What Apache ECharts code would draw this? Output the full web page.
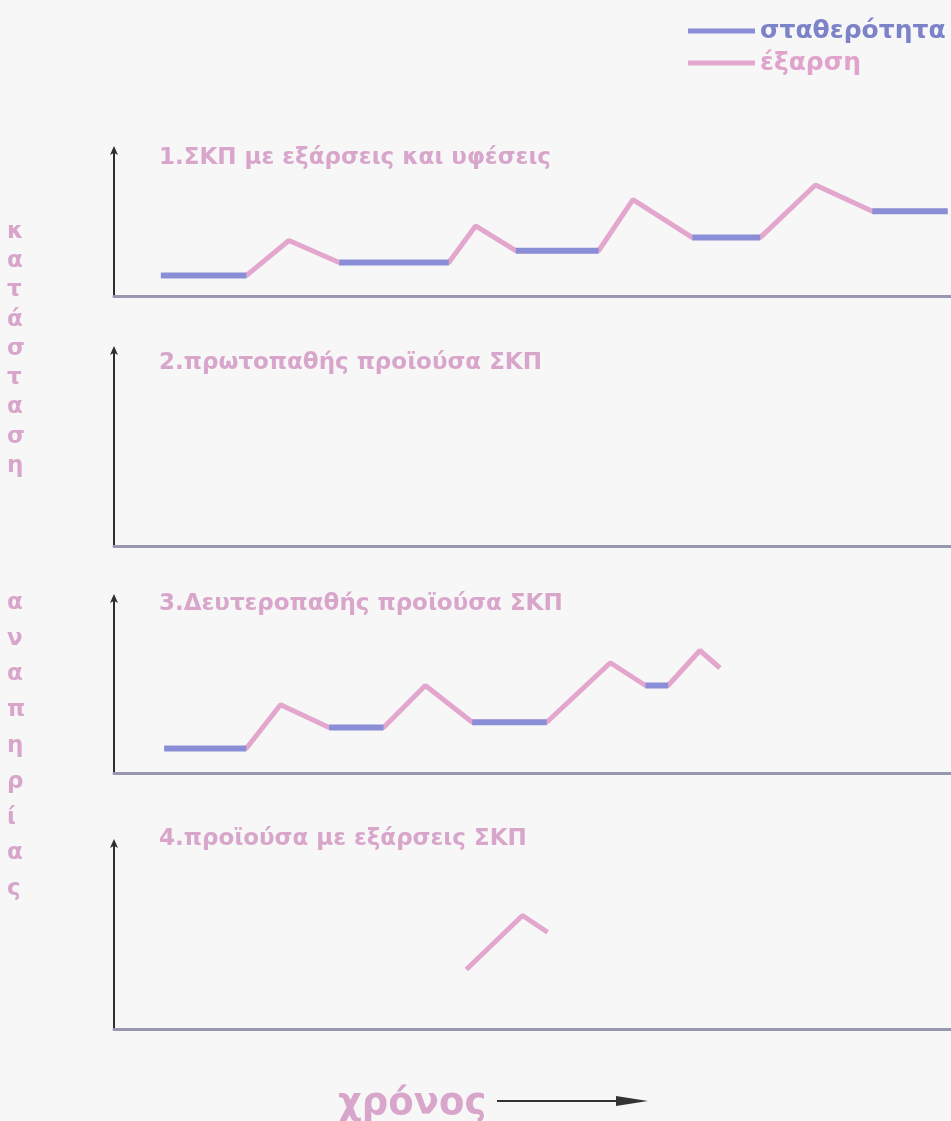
<!DOCTYPE html>
<html>
<head>
<meta charset="utf-8">
<style>
  html, body { margin: 0; padding: 0; background: #f7f7f7; }
  #chart { width: 951px; height: 1121px; }
</style>
<script src="https://cdn.jsdelivr.net/npm/echarts@6/dist/echarts.min.js"></script>
</head>
<body>
<div id="chart"></div>
<script>
// χρόνος 0–100, κατάσταση 0–10 σε κάθε διάγραμμα
const titles = [
  '1.ΣΚΠ με εξάρσεις και υφέσεις',
  '2.πρωτοπαθής προϊούσα ΣΚΠ',
  '3.Δευτεροπαθής προϊούσα ΣΚΠ',
  '4.προϊούσα με εξάρσεις ΣΚΠ'
];
const legendNames = ['σταθερότητα', 'έξαρση'];
const yLabel1 = 'κατάσταση';
const yLabel2 = 'αναπηρίας';
const xLabel = 'χρόνος';

// 1. πορεία (ολόκληρη) και διαστήματα σταθερότητας
const path1 = [[5.6,1.4],[15.8,1.4],[20.9,3.8],[26.9,2.3],[40.0,2.3],[43.2,4.8],[48.0,3.1],
  [57.9,3.1],[62.0,6.6],[69.1,4.0],[77.2,4.0],[83.8,7.6],[90.6,5.8],[99.6,5.8]];
const stable1 = [[5.6,1.4],[15.8,1.4],[20,'-'],[26.9,2.3],[40.0,2.3],[45,'-'],[48.0,3.1],[57.9,3.1],
  [62,'-'],[69.1,4.0],[77.2,4.0],[85,'-'],[90.6,5.8],[99.6,5.8]];

// 2. χωρίς καμπύλη
const path2 = [];
const stable2 = [];

// 3.
const path3 = [[6.0,1.4],[15.8,1.4],[19.9,3.9],[25.7,2.6],[32.2,2.6],[37.2,5.0],[42.8,2.9],
  [51.7,2.9],[59.3,6.3],[63.5,5.0],[66.2,5.0],[70.0,7.0],[72.4,6.0]];
const stable3 = [[6.0,1.4],[15.8,1.4],[20,'-'],[25.7,2.6],[32.2,2.6],[37,'-'],[42.8,2.9],[51.7,2.9],
  [60,'-'],[63.5,5.0],[66.2,5.0]];

// 4.
const path4 = [[42.1,3.2],[48.8,6.1],[51.8,5.2]];
const stable4 = [];

const paths = [path1, path2, path3, path4];
const stables = [stable1, stable2, stable3, stable4];

const blue = '#8a8ed6';
const pink = '#e3a7ce';
const textPink = '#d9a6cb';

const grids = [
  { left: 114, right: 0, top: 150, height: 146 },
  { left: 114, right: 0, top: 350, height: 196 },
  { left: 114, right: 0, top: 598, height: 175 },
  { left: 114, right: 0, top: 843, height: 186 }
];
const titleTops = [142, 347, 588, 823];

const chart = echarts.init(document.getElementById('chart'));

const series = [];
paths.forEach((p, i) => {
  series.push({
    name: legendNames[1], type: 'line', xAxisIndex: i, yAxisIndex: i,
    data: p, symbol: 'none', lineStyle: { color: pink, width: 5 }, itemStyle: { color: pink },
    z: 2
  });
  series.push({
    name: legendNames[0], type: 'line', xAxisIndex: i, yAxisIndex: i,
    data: stables[i], symbol: 'none', connectNulls: false,
    lineStyle: { color: blue, width: 6 }, itemStyle: { color: blue }, z: 3
  });
});

const option = {
  backgroundColor: '#f7f7f7',
  animation: false,
  title: titles.map((t, i) => ({
    text: t, left: 154, top: titleTops[i],
    textStyle: { color: textPink, fontSize: 23, fontWeight: 'bold', fontFamily: 'DejaVu Sans' }
  })),
  legend: {
    orient: 'vertical', left: 683, top: 11, itemGap: 2,
    icon: 'rect', itemWidth: 67, itemHeight: 5,
    data: [
      { name: legendNames[0], textStyle: { color: '#7d83c8' } },
      { name: legendNames[1], textStyle: { color: '#e0a4cc' } }
    ],
    textStyle: { fontSize: 25, fontWeight: 'bold', fontFamily: 'DejaVu Sans', lineHeight: 30 }
  },
  grid: grids,
  xAxis: grids.map((g, i) => ({
    type: 'value', gridIndex: i, min: 0, max: 100,
    axisLine: { show: true, lineStyle: { color: '#9898b3', width: 3 } },
    axisTick: { show: false }, axisLabel: { show: false }, splitLine: { show: false }
  })),
  yAxis: grids.map((g, i) => ({
    type: 'value', gridIndex: i, min: 0, max: 10,
    axisLine: { show: true, symbol: ['none', 'arrow'], symbolSize: [6, 9], symbolOffset: [0, 4],
      lineStyle: { color: '#2e2e2e', width: 2 } },
    axisTick: { show: false }, axisLabel: { show: false }, splitLine: { show: false }
  })),
  graphic: [
    {
      type: 'text', left: 7, top: 217,
      style: {
        text: yLabel1.split('').join('\n'), fill: textPink, lineHeight: 29.3,
        font: 'bold 23px "DejaVu Sans"', align: 'center'
      }
    },
    {
      type: 'text', left: 7, top: 585,
      style: {
        text: yLabel2.split('').join('\n'), fill: textPink, lineHeight: 35.8,
        font: 'bold 23px "DejaVu Sans"', align: 'center'
      }
    },
    {
      type: 'text', left: 338, top: 1086,
      style: { text: xLabel, fill: textPink, font: 'bold 37px "DejaVu Sans"' }
    },
    {
      type: 'line', shape: { x1: 497, y1: 1101, x2: 625, y2: 1101 },
      style: { stroke: '#333', lineWidth: 2 }
    },
    {
      type: 'polygon', shape: { points: [[616, 1096], [648, 1101], [616, 1106]] },
      style: { fill: '#333' }
    }
  ],
  series: series
};

chart.setOption(option);
</script>
</body>
</html>
